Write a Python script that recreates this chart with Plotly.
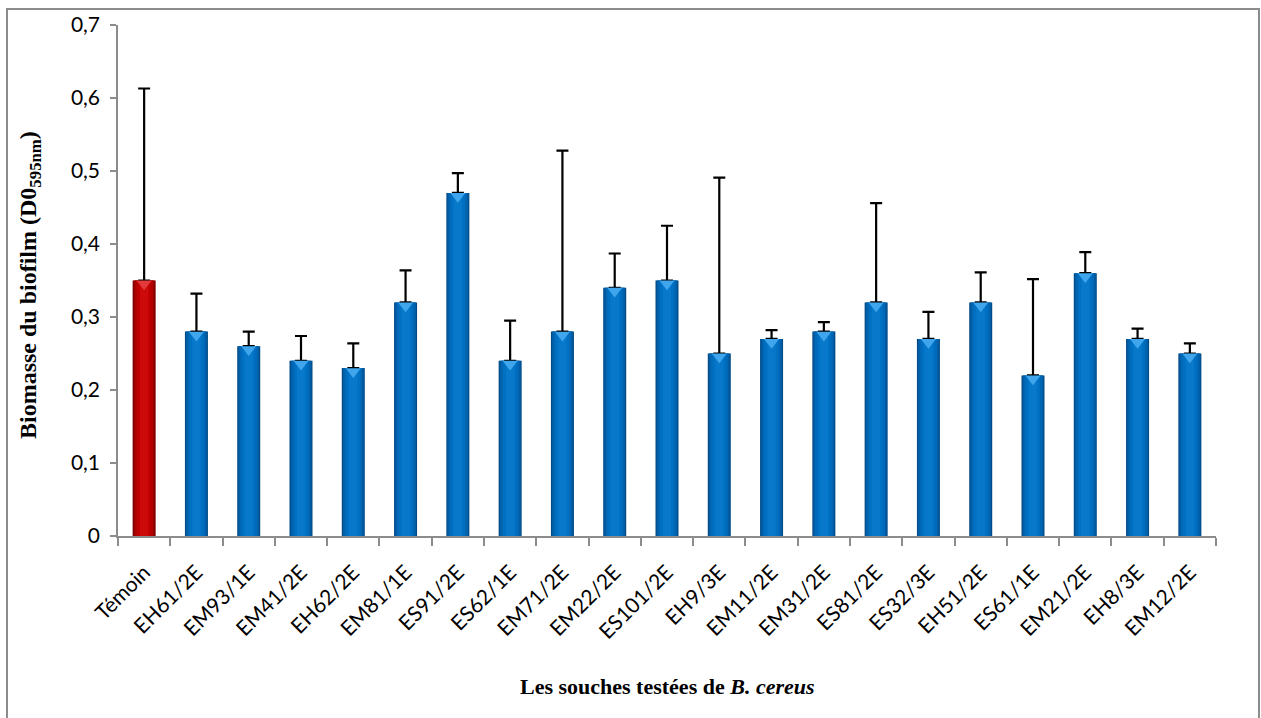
import plotly.graph_objects as go

# Biofilm biomass (OD 595 nm) per B. cereus strain, with the upper error
strains = ["Témoin", "EH61/2E", "EM93/1E", "EM41/2E", "EH62/2E", "EM81/1E",
           "ES91/2E", "ES62/1E", "EM71/2E", "EM22/2E", "ES101/2E", "EH9/3E",
           "EM11/2E", "EM31/2E", "ES81/2E", "ES32/3E", "EH51/2E", "ES61/1E",
           "EM21/2E", "EH8/3E", "EM12/2E"]
biomass = [0.35, 0.28, 0.26, 0.24, 0.23, 0.32, 0.47, 0.24, 0.28, 0.34, 0.35,
           0.25, 0.27, 0.28, 0.32, 0.27, 0.32, 0.22, 0.36, 0.27, 0.25]
error_up = [0.263, 0.052, 0.020, 0.034, 0.034, 0.044, 0.027, 0.055, 0.248,
            0.047, 0.075, 0.241, 0.012, 0.013, 0.136, 0.037, 0.041, 0.132,
            0.029, 0.014, 0.014]

y_ticks = [0, 0.1, 0.2, 0.3, 0.4, 0.5, 0.6, 0.7]
y_tick_text = ["0", "0,1", "0,2", "0,3", "0,4", "0,5", "0,6", "0,7"]

# shading layers (outer edge -> centre) to give the bars a rounded look
layer_widths = [0.44, 0.40, 0.34, 0.26, 0.16]
blue_shades = ["#004A86", "#005CA3", "#0068B6", "#0070C2", "#0878CA"]
red_shades = ["#7A0000", "#980000", "#B00000", "#C00000", "#CC0A0A"]

fig = go.Figure()
n_layers = len(layer_widths)
for i, (w, b, r) in enumerate(zip(layer_widths, blue_shades, red_shades)):
    colors = [r if s == "Témoin" else b for s in strains]
    last = i == n_layers - 1
    fig.add_trace(go.Bar(
        x=strains, y=biomass, width=w,
        marker=dict(color=colors, line=dict(width=0)),
        error_y=dict(type="data", symmetric=False, array=error_up,
                     arrayminus=[0] * len(strains), color="black",
                     thickness=2.2, width=6, visible=last),
        hoverinfo="skip" if not last else None,
        showlegend=False,
    ))

# light bevel at the top of each bar
tip_colors = ["#E23A3A" if s == "Témoin" else "#3FA6EE" for s in strains]
fig.add_trace(go.Scatter(
    x=strains, y=[v - 0.0045 for v in biomass], mode="markers",
    marker=dict(symbol="triangle-down", size=13, color=tip_colors,
                line=dict(width=0)),
    hoverinfo="skip", showlegend=False,
))

L, R, T, B = 118, 45, 25, 182
W, H = 1261, 718
pw, ph = W - L - R, H - T - B

serif = "Liberation Serif, Times New Roman, serif"
sans = "Lato, Carlito, sans-serif"

fig.update_layout(
    width=W, height=H,
    margin=dict(l=L, r=R, t=T, b=B, autoexpand=False),
    barmode="overlay",
    plot_bgcolor="white", paper_bgcolor="white",
    font=dict(family=sans, color="black"),
    xaxis=dict(
        type="category", range=[-0.5, len(strains) - 0.5],
        tickangle=-45, tickson="boundaries",
        ticks="outside", ticklen=8, tickcolor="#8C8C8C", tickwidth=1.5,
        showline=True, linecolor="#8C8C8C", linewidth=1.5,
        showgrid=False, tickfont=dict(family=sans, size=21, color="black"),
        ticklabelstandoff=14, automargin=False,
    ),
    yaxis=dict(
        range=[0, 0.7], tickvals=y_ticks, ticktext=y_tick_text,
        ticks="outside", ticklen=6, tickcolor="#8C8C8C", tickwidth=1.5,
        showline=True, linecolor="#8C8C8C", linewidth=1.5,
        showgrid=False, zeroline=False,
        tickfont=dict(family=sans, size=21, color="black"),
        ticklabelstandoff=6, automargin=False,
    ),
    annotations=[
        dict(text="<b>Les souches testées de <i>B. cereus</i></b>",
             xref="paper", yref="paper", x=0.5, y=-(686 - (H - B)) / ph,
             xanchor="center", yanchor="middle", showarrow=False,
             font=dict(family=serif, size=22, color="black")),
        dict(text="<b>Biomasse du biofilm (D0<sub>595nm</sub>)</b>",
             xref="paper", yref="paper", x=-(L - 30) / pw,
             y=1 - (285 - T) / ph, textangle=-90,
             xanchor="center", yanchor="middle", showarrow=False,
             font=dict(family=serif, size=24, color="black")),
    ],
)

# outer frame around the chart area
fig.add_shape(type="rect", xref="paper", yref="paper",
              x0=(7 - L) / pw, x1=(1259 - L) / pw,
              y0=-(H + 5 - (H - B)) / ph, y1=1 + (T - 9) / ph,
              line=dict(color="#8C8C8C", width=2), layer="below")

fig.write_html("out.html")
